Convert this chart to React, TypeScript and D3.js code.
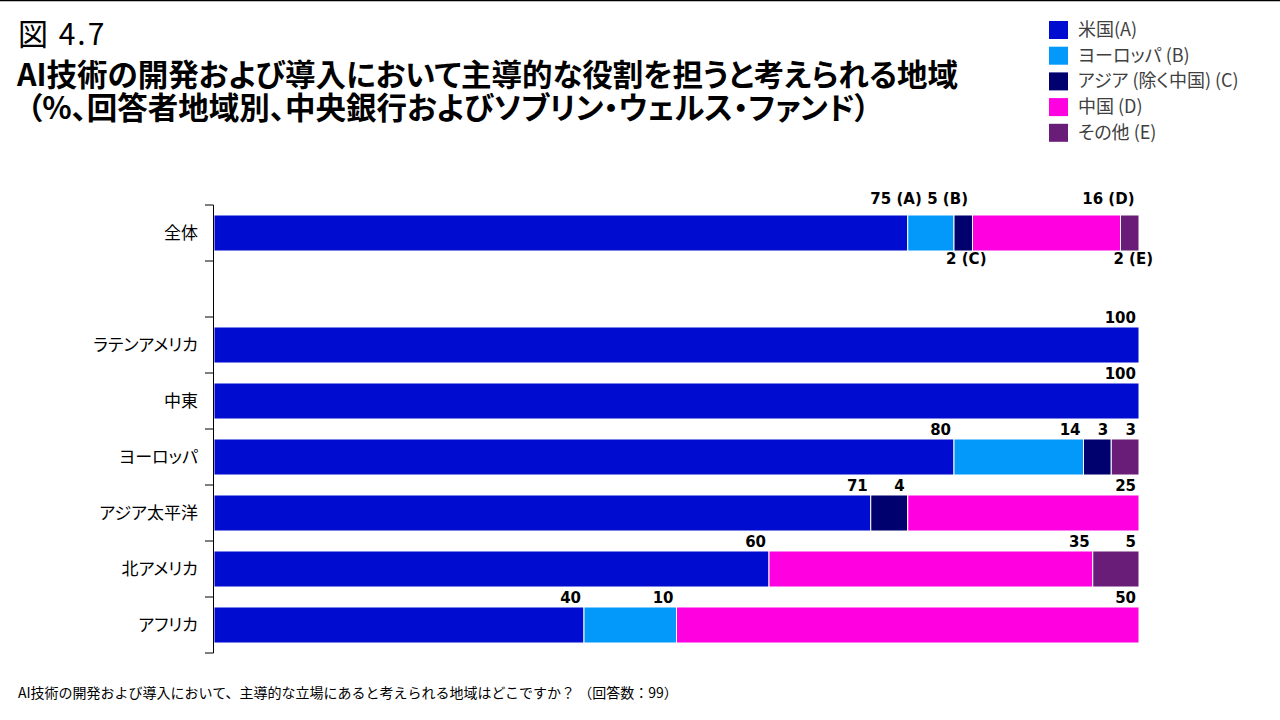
import { useEffect } from "react";
import * as d3 from "d3";

const rows = ["全体", "_gap", "ラテンアメリカ", "中東", "ヨーロッパ", "アジア太平洋", "北アメリカ", "アフリカ"];
const seriesKeys = ["A", "B", "C", "D", "E"];
const seriesNames = ["米国(A)", "ヨーロッパ (B)", "アジア (除く中国) (C)", "中国 (D)", "その他 (E)"];
const seriesColors = ["#000ccf", "#0399fa", "#00006e", "#ff00e0", "#6a1d78"];

const valuesA = [75, 0, 100, 100, 80, 71, 60, 40];
const valuesB = [5, 0, 0, 0, 14, 0, 0, 10];
const valuesC = [2, 0, 0, 0, 3, 4, 0, 0];
const valuesD = [16, 0, 0, 0, 0, 25, 35, 50];
const valuesE = [2, 0, 0, 0, 3, 0, 5, 0];

const totalLabels = ["75 (A)", "5 (B)", "2 (C)", "16 (D)", "2 (E)"];
// placement of the 全体 labels: above / below the bar
const totalLabelSide = ["above", "above", "below", "above", "below"];

const TITLE_NO = "図 4.7";
const TITLE_1 = "AI技術の開発および導入において主導的な役割を担うと考えられる地域";
const TITLE_2 = "（%、回答者地域別、中央銀行およびソブリン・ウェルス・ファンド）";
const NOTE = "AI技術の開発および導入において、主導的な立場にあると考えられる地域はどこですか？ （回答数：99）";

const W = 1280;
const H = 720;
const JP = "'Meiryo UI', 'Noto Sans CJK JP', sans-serif";
const NUM = "Verdana, 'DejaVu Sans', sans-serif";
const palt = { fontFeatureSettings: "'palt'" };

export default function App() {
  useEffect(() => {
    document.body.style.margin = "0";
  }, []);

  const data = rows.map((r, i) => ({
    row: r,
    A: valuesA[i],
    B: valuesB[i],
    C: valuesC[i],
    D: valuesD[i],
    E: valuesE[i],
  }));

  const x = d3.scaleLinear().domain([0, 100]).range([214, 1139]);
  const y = d3
    .scaleBand<string>()
    .domain(rows)
    .range([205, 653])
    .paddingInner(0.357)
    .paddingOuter(0.1785);

  const stacked = d3.stack<any>().keys(seriesKeys)(data);
  const step = y.step();
  const tickYs = d3.range(rows.length + 1).map((i) => 205 + i * step);

  return (
    <svg width={W} height={H} style={{ display: "block", background: "#fff" }}>
      <line x1={0} x2={W} y1={0.5} y2={0.5} stroke="#000" strokeWidth={1.5} />

      <text x={18} y={45} fontFamily={JP} fontSize={30} letterSpacing={2} fill="#000">
        {TITLE_NO}
      </text>
      <text x={17} y={86} fontFamily={JP} fontSize={30.5} fontWeight={700} fill="#000" style={palt}>
        {TITLE_1}
      </text>
      <text x={27} y={119} fontFamily={JP} fontSize={30.5} fontWeight={700} fill="#000" style={palt}>
        {TITLE_2}
      </text>

      {seriesNames.map((name, i) => (
        <g key={name} transform={`translate(1049,${21 + i * 25.7})`}>
          <rect width={19} height={18} fill={seriesColors[i]} />
          <text x={29} y={15} fontFamily={JP} fontSize={18} fill="#404040" style={palt}>
            {name}
          </text>
        </g>
      ))}

      {stacked.map((s, si) =>
        s.map((d, ri) =>
          d[1] - d[0] > 0 ? (
            <rect
              key={`${si}-${ri}`}
              x={x(d[0])}
              y={y(rows[ri])}
              width={x(d[1]) - x(d[0])}
              height={y.bandwidth()}
              fill={seriesColors[si]}
              stroke="#fff"
              strokeWidth={1}
            />
          ) : null
        )
      )}

      <line x1={213.5} x2={213.5} y1={tickYs[0]} y2={tickYs[tickYs.length - 1]} stroke="#000" strokeWidth={1} />
      {tickYs.map((ty) => (
        <line key={ty} x1={205} x2={213.5} y1={ty} y2={ty} stroke="#000" strokeWidth={1} />
      ))}
      {rows.map((r) =>
        r === "_gap" ? null : (
          <text
            key={r}
            x={198}
            y={(y(r) ?? 0) + y.bandwidth() / 2}
            dy="0.35em"
            textAnchor="end"
            fontFamily={JP}
            fontSize={17}
            fill="#000"
            style={palt}
          >
            {r}
          </text>
        )
      )}

      {stacked.map((s, si) =>
        s.map((d, ri) => {
          const v = d[1] - d[0];
          if (v <= 0) return null;
          const top = y(rows[ri]) ?? 0;
          if (ri === 0) {
            const below = totalLabelSide[si] === "below";
            return (
              <text
                key={`l${si}-${ri}`}
                x={x(d[1]) + 14}
                y={below ? top + y.bandwidth() + 13 : top - 11}
                textAnchor="end"
                fontFamily={NUM}
                fontSize={15}
                fontWeight={700}
                fill="#000"
              >
                {totalLabels[si]}
              </text>
            );
          }
          return (
            <text
              key={`l${si}-${ri}`}
              x={x(d[1]) - 3}
              y={top - 4}
              textAnchor="end"
              fontFamily={NUM}
              fontSize={15}
              fontWeight={700}
              fill="#000"
            >
              {v}
            </text>
          );
        })
      )}

      <text x={18} y={698} fontFamily={JP} fontSize={14} fill="#000">
        {NOTE}
      </text>
    </svg>
  );
}
